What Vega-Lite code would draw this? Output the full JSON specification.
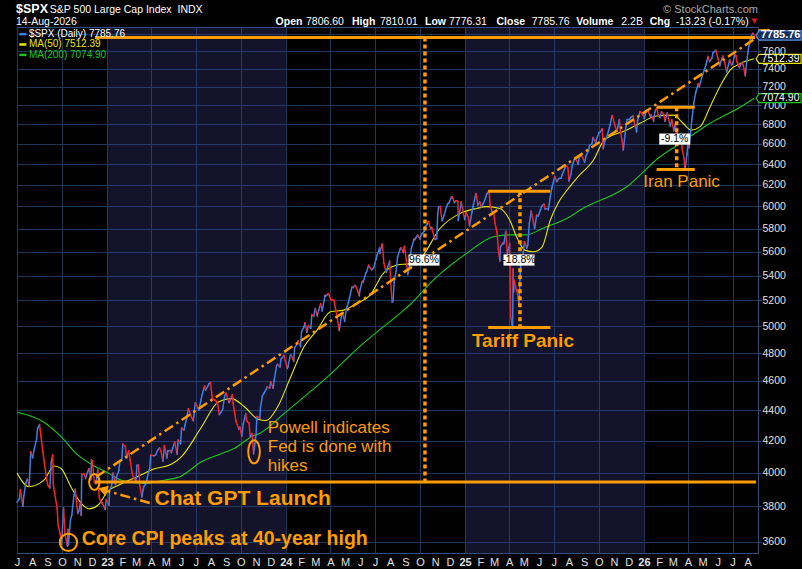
{
  "$schema": "https://vega.github.io/schema/vega-lite/v6.json",
  "width": 741,
  "height": 526,
  "autosize": {"type": "none"},
  "padding": {"left": 17, "top": 27, "right": 44, "bottom": 16},
  "background": "#000000",
  "config": {
    "font": "Liberation Sans",
    "view": {"fill": "#000000", "stroke": "#33507a", "strokeWidth": 1}
  },
  "datasets": {
    "bands": [
      {"date": "2023-01-01", "date2": "2024-01-01", "v": 3540, "v2": 7885},
      {"date": "2025-01-01", "date2": "2026-01-01", "v": 3540, "v2": 7885}
    ],
    "spx": [
      {"date":"2022-07-01","v":3825},{"date":"2022-07-06","v":3845},{"date":"2022-07-08","v":3899},{"date":"2022-07-13","v":3801},{"date":"2022-07-15","v":3863},{"date":"2022-07-19","v":3937},{"date":"2022-07-22","v":3962},{"date":"2022-07-26","v":3921},{"date":"2022-07-29","v":4130},
      {"date":"2022-08-02","v":4091},{"date":"2022-08-05","v":4145},{"date":"2022-08-10","v":4210},{"date":"2022-08-12","v":4280},{"date":"2022-08-16","v":4305},{"date":"2022-08-19","v":4228},{"date":"2022-08-23","v":4128},{"date":"2022-08-26","v":4058},{"date":"2022-08-31","v":3955},
      {"date":"2022-09-02","v":3924},{"date":"2022-09-06","v":3908},{"date":"2022-09-09","v":4067},{"date":"2022-09-12","v":4110},{"date":"2022-09-13","v":3932},{"date":"2022-09-16","v":3873},{"date":"2022-09-21","v":3790},{"date":"2022-09-23","v":3693},{"date":"2022-09-27","v":3647},{"date":"2022-09-30","v":3586},
      {"date":"2022-10-04","v":3791},{"date":"2022-10-07","v":3640},{"date":"2022-10-12","v":3577},{"date":"2022-10-13","v":3670},{"date":"2022-10-14","v":3583},{"date":"2022-10-18","v":3720},{"date":"2022-10-21","v":3752},{"date":"2022-10-25","v":3859},{"date":"2022-10-28","v":3901},
      {"date":"2022-11-02","v":3760},{"date":"2022-11-04","v":3771},{"date":"2022-11-08","v":3828},{"date":"2022-11-09","v":3749},{"date":"2022-11-10","v":3956},{"date":"2022-11-11","v":3993},{"date":"2022-11-15","v":3992},{"date":"2022-11-18","v":3965},{"date":"2022-11-22","v":4003},{"date":"2022-11-25","v":4026},{"date":"2022-11-29","v":3958},{"date":"2022-11-30","v":4080},
      {"date":"2022-12-02","v":4072},{"date":"2022-12-06","v":3941},{"date":"2022-12-09","v":3934},{"date":"2022-12-13","v":4019},{"date":"2022-12-15","v":3896},{"date":"2022-12-16","v":3852},{"date":"2022-12-20","v":3821},{"date":"2022-12-22","v":3822},{"date":"2022-12-28","v":3783},{"date":"2022-12-30","v":3840},
      {"date":"2023-01-05","v":3808},{"date":"2023-01-06","v":3895},{"date":"2023-01-10","v":3919},{"date":"2023-01-13","v":3999},{"date":"2023-01-18","v":3929},{"date":"2023-01-20","v":3972},{"date":"2023-01-25","v":4016},{"date":"2023-01-27","v":4070},{"date":"2023-01-31","v":4077},
      {"date":"2023-02-02","v":4179},{"date":"2023-02-07","v":4164},{"date":"2023-02-10","v":4090},{"date":"2023-02-14","v":4136},{"date":"2023-02-17","v":4079},{"date":"2023-02-21","v":3997},{"date":"2023-02-24","v":3970},
      {"date":"2023-03-01","v":3951},{"date":"2023-03-03","v":4046},{"date":"2023-03-06","v":4048},{"date":"2023-03-09","v":3918},{"date":"2023-03-13","v":3855},{"date":"2023-03-15","v":3892},{"date":"2023-03-17","v":3917},{"date":"2023-03-22","v":3937},{"date":"2023-03-24","v":3971},{"date":"2023-03-29","v":4028},{"date":"2023-03-31","v":4109},
      {"date":"2023-04-06","v":4105},{"date":"2023-04-10","v":4110},{"date":"2023-04-14","v":4138},{"date":"2023-04-18","v":4155},{"date":"2023-04-21","v":4133},{"date":"2023-04-25","v":4071},{"date":"2023-04-28","v":4169},
      {"date":"2023-05-03","v":4091},{"date":"2023-05-05","v":4136},{"date":"2023-05-10","v":4138},{"date":"2023-05-12","v":4124},{"date":"2023-05-19","v":4192},{"date":"2023-05-24","v":4115},{"date":"2023-05-26","v":4205},{"date":"2023-05-31","v":4180},
      {"date":"2023-06-02","v":4282},{"date":"2023-06-07","v":4268},{"date":"2023-06-09","v":4299},{"date":"2023-06-12","v":4338},{"date":"2023-06-16","v":4410},{"date":"2023-06-23","v":4348},{"date":"2023-06-26","v":4329},{"date":"2023-06-30","v":4450},
      {"date":"2023-07-06","v":4412},{"date":"2023-07-07","v":4399},{"date":"2023-07-12","v":4472},{"date":"2023-07-14","v":4505},{"date":"2023-07-19","v":4565},{"date":"2023-07-21","v":4536},{"date":"2023-07-26","v":4566},{"date":"2023-07-28","v":4582},{"date":"2023-07-31","v":4589},
      {"date":"2023-08-03","v":4502},{"date":"2023-08-04","v":4478},{"date":"2023-08-09","v":4468},{"date":"2023-08-11","v":4464},{"date":"2023-08-15","v":4437},{"date":"2023-08-18","v":4370},{"date":"2023-08-22","v":4388},{"date":"2023-08-25","v":4406},{"date":"2023-08-29","v":4497},
      {"date":"2023-09-01","v":4515},{"date":"2023-09-07","v":4451},{"date":"2023-09-08","v":4457},{"date":"2023-09-14","v":4505},{"date":"2023-09-15","v":4450},{"date":"2023-09-21","v":4330},{"date":"2023-09-22","v":4320},{"date":"2023-09-27","v":4274},{"date":"2023-09-29","v":4288},
      {"date":"2023-10-03","v":4229},{"date":"2023-10-06","v":4309},{"date":"2023-10-11","v":4377},{"date":"2023-10-13","v":4327},{"date":"2023-10-18","v":4314},{"date":"2023-10-20","v":4224},{"date":"2023-10-24","v":4247},{"date":"2023-10-27","v":4117},
      {"date":"2023-11-01","v":4237},{"date":"2023-11-03","v":4358},{"date":"2023-11-09","v":4347},{"date":"2023-11-10","v":4415},{"date":"2023-11-14","v":4496},{"date":"2023-11-17","v":4514},{"date":"2023-11-21","v":4538},{"date":"2023-11-24","v":4559},{"date":"2023-11-29","v":4550},
      {"date":"2023-12-01","v":4595},{"date":"2023-12-06","v":4549},{"date":"2023-12-08","v":4604},{"date":"2023-12-13","v":4707},{"date":"2023-12-15","v":4719},{"date":"2023-12-20","v":4698},{"date":"2023-12-22","v":4755},{"date":"2023-12-28","v":4783},{"date":"2023-12-29","v":4770},
      {"date":"2024-01-04","v":4688},{"date":"2024-01-05","v":4697},{"date":"2024-01-10","v":4783},{"date":"2024-01-12","v":4784},{"date":"2024-01-17","v":4739},{"date":"2024-01-19","v":4840},{"date":"2024-01-24","v":4868},{"date":"2024-01-26","v":4891},{"date":"2024-01-31","v":4846},
      {"date":"2024-02-02","v":4959},{"date":"2024-02-07","v":4995},{"date":"2024-02-09","v":5027},{"date":"2024-02-13","v":4953},{"date":"2024-02-16","v":5006},{"date":"2024-02-21","v":4982},{"date":"2024-02-23","v":5089},{"date":"2024-02-27","v":5078},
      {"date":"2024-03-01","v":5137},{"date":"2024-03-05","v":5079},{"date":"2024-03-08","v":5124},{"date":"2024-03-12","v":5175},{"date":"2024-03-15","v":5117},{"date":"2024-03-21","v":5241},{"date":"2024-03-22","v":5234},{"date":"2024-03-28","v":5254},
      {"date":"2024-04-02","v":5205},{"date":"2024-04-05","v":5204},{"date":"2024-04-08","v":5202},{"date":"2024-04-12","v":5123},{"date":"2024-04-15","v":5061},{"date":"2024-04-19","v":4967},{"date":"2024-04-23","v":5071},{"date":"2024-04-26","v":5100},{"date":"2024-04-30","v":5036},
      {"date":"2024-05-03","v":5128},{"date":"2024-05-08","v":5188},{"date":"2024-05-10","v":5223},{"date":"2024-05-15","v":5308},{"date":"2024-05-17","v":5303},{"date":"2024-05-21","v":5321},{"date":"2024-05-24","v":5305},{"date":"2024-05-30","v":5236},{"date":"2024-05-31","v":5278},
      {"date":"2024-06-05","v":5354},{"date":"2024-06-07","v":5347},{"date":"2024-06-12","v":5421},{"date":"2024-06-14","v":5431},{"date":"2024-06-18","v":5487},{"date":"2024-06-21","v":5465},{"date":"2024-06-24","v":5448},{"date":"2024-06-28","v":5460},
      {"date":"2024-07-03","v":5537},{"date":"2024-07-05","v":5567},{"date":"2024-07-10","v":5633},{"date":"2024-07-11","v":5585},{"date":"2024-07-12","v":5615},{"date":"2024-07-16","v":5667},{"date":"2024-07-19","v":5505},{"date":"2024-07-24","v":5427},{"date":"2024-07-26","v":5459},{"date":"2024-07-31","v":5522},
      {"date":"2024-08-02","v":5346},{"date":"2024-08-05","v":5186},{"date":"2024-08-07","v":5199},{"date":"2024-08-09","v":5344},{"date":"2024-08-13","v":5434},{"date":"2024-08-16","v":5554},{"date":"2024-08-21","v":5621},{"date":"2024-08-23","v":5634},{"date":"2024-08-28","v":5592},{"date":"2024-08-30","v":5648},
      {"date":"2024-09-03","v":5529},{"date":"2024-09-06","v":5408},{"date":"2024-09-10","v":5496},{"date":"2024-09-13","v":5626},{"date":"2024-09-19","v":5713},{"date":"2024-09-20","v":5703},{"date":"2024-09-26","v":5745},{"date":"2024-09-27","v":5738},
      {"date":"2024-10-01","v":5709},{"date":"2024-10-04","v":5751},{"date":"2024-10-10","v":5780},{"date":"2024-10-11","v":5815},{"date":"2024-10-16","v":5842},{"date":"2024-10-18","v":5864},{"date":"2024-10-23","v":5797},{"date":"2024-10-25","v":5808},{"date":"2024-10-31","v":5705},
      {"date":"2024-11-04","v":5712},{"date":"2024-11-06","v":5929},{"date":"2024-11-08","v":5996},{"date":"2024-11-11","v":6001},{"date":"2024-11-15","v":5870},{"date":"2024-11-19","v":5917},{"date":"2024-11-22","v":5969},{"date":"2024-11-26","v":6021},{"date":"2024-11-29","v":6032},
      {"date":"2024-12-04","v":6086},{"date":"2024-12-06","v":6090},{"date":"2024-12-10","v":6034},{"date":"2024-12-13","v":6051},{"date":"2024-12-17","v":6050},{"date":"2024-12-18","v":5872},{"date":"2024-12-20","v":5930},{"date":"2024-12-24","v":6040},{"date":"2024-12-27","v":5971},{"date":"2024-12-31","v":5882},
      {"date":"2025-01-03","v":5942},{"date":"2025-01-07","v":5909},{"date":"2025-01-10","v":5827},{"date":"2025-01-15","v":5950},{"date":"2025-01-17","v":5997},{"date":"2025-01-23","v":6119},{"date":"2025-01-24","v":6101},{"date":"2025-01-27","v":6012},{"date":"2025-01-31","v":6041},
      {"date":"2025-02-03","v":5994},{"date":"2025-02-07","v":6026},{"date":"2025-02-11","v":6068},{"date":"2025-02-14","v":6115},{"date":"2025-02-19","v":6144},{"date":"2025-02-21","v":6013},{"date":"2025-02-25","v":5955},{"date":"2025-02-28","v":5955},
      {"date":"2025-03-03","v":5850},{"date":"2025-03-07","v":5770},{"date":"2025-03-10","v":5615},{"date":"2025-03-13","v":5521},{"date":"2025-03-14","v":5639},{"date":"2025-03-19","v":5675},{"date":"2025-03-21","v":5668},{"date":"2025-03-25","v":5777},{"date":"2025-03-28","v":5581},
      {"date":"2025-04-02","v":5671},{"date":"2025-04-03","v":5396},{"date":"2025-04-04","v":5074},{"date":"2025-04-08","v":4982},{"date":"2025-04-09","v":5457},{"date":"2025-04-10","v":5268},{"date":"2025-04-11","v":5363},{"date":"2025-04-16","v":5276},{"date":"2025-04-17","v":5283},{"date":"2025-04-21","v":5158},{"date":"2025-04-23","v":5376},{"date":"2025-04-25","v":5525},{"date":"2025-04-29","v":5561},
      {"date":"2025-05-02","v":5687},{"date":"2025-05-07","v":5631},{"date":"2025-05-09","v":5660},{"date":"2025-05-12","v":5844},{"date":"2025-05-16","v":5958},{"date":"2025-05-21","v":5845},{"date":"2025-05-23","v":5803},{"date":"2025-05-27","v":5922},{"date":"2025-05-30","v":5912},
      {"date":"2025-06-04","v":5971},{"date":"2025-06-06","v":6000},{"date":"2025-06-11","v":6022},{"date":"2025-06-13","v":5977},{"date":"2025-06-18","v":5981},{"date":"2025-06-20","v":5968},{"date":"2025-06-24","v":6092},{"date":"2025-06-27","v":6173},
      {"date":"2025-07-03","v":6279},{"date":"2025-07-07","v":6230},{"date":"2025-07-11","v":6260},{"date":"2025-07-16","v":6264},{"date":"2025-07-18","v":6297},{"date":"2025-07-24","v":6363},{"date":"2025-07-25","v":6389},{"date":"2025-07-30","v":6362},
      {"date":"2025-08-01","v":6238},{"date":"2025-08-05","v":6299},{"date":"2025-08-08","v":6389},{"date":"2025-08-12","v":6446},{"date":"2025-08-15","v":6450},{"date":"2025-08-20","v":6396},{"date":"2025-08-22","v":6467},{"date":"2025-08-27","v":6481},{"date":"2025-08-29","v":6460},
      {"date":"2025-09-02","v":6416},{"date":"2025-09-05","v":6482},{"date":"2025-09-10","v":6532},{"date":"2025-09-12","v":6584},{"date":"2025-09-17","v":6600},{"date":"2025-09-19","v":6664},{"date":"2025-09-25","v":6605},{"date":"2025-09-26","v":6644},
      {"date":"2025-10-01","v":6711},{"date":"2025-10-03","v":6716},{"date":"2025-10-08","v":6753},{"date":"2025-10-10","v":6552},{"date":"2025-10-14","v":6644},{"date":"2025-10-17","v":6664},{"date":"2025-10-21","v":6735},{"date":"2025-10-24","v":6792},{"date":"2025-10-28","v":6890},{"date":"2025-10-31","v":6840},
      {"date":"2025-11-04","v":6771},{"date":"2025-11-07","v":6728},{"date":"2025-11-12","v":6850},{"date":"2025-11-14","v":6734},{"date":"2025-11-18","v":6617},{"date":"2025-11-20","v":6538},{"date":"2025-11-25","v":6766},{"date":"2025-11-28","v":6849},
      {"date":"2025-12-03","v":6850},{"date":"2025-12-05","v":6870},{"date":"2025-12-10","v":6886},{"date":"2025-12-12","v":6827},{"date":"2025-12-17","v":6721},{"date":"2025-12-19","v":6834},{"date":"2025-12-24","v":6932},{"date":"2025-12-30","v":6896},
      {"date":"2026-01-02","v":6858},{"date":"2026-01-06","v":6944},{"date":"2026-01-09","v":6950},{"date":"2026-01-14","v":6880},{"date":"2026-01-16","v":6900},{"date":"2026-01-21","v":6830},{"date":"2026-01-23","v":6920},{"date":"2026-01-27","v":6976},{"date":"2026-01-30","v":6900},
      {"date":"2026-02-03","v":6870},{"date":"2026-02-06","v":6930},{"date":"2026-02-11","v":6900},{"date":"2026-02-13","v":6830},{"date":"2026-02-18","v":6920},{"date":"2026-02-20","v":6860},{"date":"2026-02-24","v":6780},{"date":"2026-02-27","v":6850},
      {"date":"2026-03-03","v":6732},{"date":"2026-03-06","v":6800},{"date":"2026-03-10","v":6700},{"date":"2026-03-13","v":6600},{"date":"2026-03-17","v":6680},{"date":"2026-03-20","v":6560},{"date":"2026-03-24","v":6450},{"date":"2026-03-26","v":6341},{"date":"2026-03-30","v":6500},
      {"date":"2026-04-01","v":6620},{"date":"2026-04-03","v":6560},{"date":"2026-04-06","v":6700},{"date":"2026-04-09","v":6850},{"date":"2026-04-13","v":7030},{"date":"2026-04-17","v":7140},{"date":"2026-04-22","v":7235},{"date":"2026-04-24","v":7200},{"date":"2026-04-29","v":7300},
      {"date":"2026-05-04","v":7380},{"date":"2026-05-08","v":7450},{"date":"2026-05-12","v":7540},{"date":"2026-05-15","v":7480},{"date":"2026-05-20","v":7520},{"date":"2026-05-22","v":7580},{"date":"2026-05-28","v":7610},
      {"date":"2026-06-01","v":7520},{"date":"2026-06-05","v":7433},{"date":"2026-06-08","v":7490},{"date":"2026-06-11","v":7546},{"date":"2026-06-15","v":7470},{"date":"2026-06-19","v":7363},{"date":"2026-06-23","v":7450},{"date":"2026-06-25","v":7500},{"date":"2026-06-29","v":7440},
      {"date":"2026-07-01","v":7454},{"date":"2026-07-06","v":7560},{"date":"2026-07-08","v":7546},{"date":"2026-07-10","v":7480},{"date":"2026-07-15","v":7410},{"date":"2026-07-20","v":7470},{"date":"2026-07-23","v":7440},{"date":"2026-07-27","v":7320},{"date":"2026-07-30","v":7480},
      {"date":"2026-08-03","v":7650},{"date":"2026-08-05","v":7700},{"date":"2026-08-07","v":7760},{"date":"2026-08-11","v":7810},{"date":"2026-08-13","v":7799},{"date":"2026-08-14","v":7785.76}
    ],
    "ma50": [
      {"date":"2022-07-01","v":3999},{"date":"2022-07-25","v":3916},{"date":"2022-08-25","v":3955},{"date":"2022-09-15","v":4041},{"date":"2022-09-29","v":4026},{"date":"2022-10-19","v":3916},{"date":"2022-11-09","v":3818},{"date":"2022-11-26","v":3786},{"date":"2022-12-13","v":3807},
      {"date":"2023-01-03","v":3891},{"date":"2023-01-23","v":3923},{"date":"2023-03-05","v":3978},{"date":"2023-04-08","v":4024},{"date":"2023-05-12","v":4052},{"date":"2023-06-02","v":4100},{"date":"2023-07-13","v":4290},{"date":"2023-08-16","v":4455},{"date":"2023-09-12","v":4478},{"date":"2023-10-09","v":4421},{"date":"2023-11-05","v":4340},{"date":"2023-11-22","v":4331},{"date":"2023-12-15","v":4421},
      {"date":"2024-01-11","v":4630},{"date":"2024-02-07","v":4846},{"date":"2024-03-05","v":4972},{"date":"2024-04-01","v":5111},{"date":"2024-04-28","v":5124},{"date":"2024-05-25","v":5177},{"date":"2024-06-21","v":5243},{"date":"2024-07-18","v":5419},{"date":"2024-08-15","v":5488},{"date":"2024-09-10","v":5500},{"date":"2024-10-02","v":5545},{"date":"2024-11-11","v":5804},{"date":"2024-12-22","v":5937},
      {"date":"2025-01-25","v":5982},{"date":"2025-02-14","v":5998},{"date":"2025-03-13","v":5982},{"date":"2025-04-02","v":5877},{"date":"2025-04-16","v":5729},{"date":"2025-05-03","v":5614},{"date":"2025-05-20","v":5600},{"date":"2025-06-07","v":5640},{"date":"2025-06-24","v":5877},{"date":"2025-07-11","v":6040},{"date":"2025-07-28","v":6150},{"date":"2025-08-18","v":6270},{"date":"2025-09-20","v":6439},{"date":"2025-10-12","v":6638},{"date":"2025-11-27","v":6740},{"date":"2025-12-24","v":6810},
      {"date":"2026-01-27","v":6885},{"date":"2026-03-02","v":6895},{"date":"2026-03-22","v":6810},{"date":"2026-04-08","v":6740},{"date":"2026-04-26","v":6775},{"date":"2026-05-16","v":6980},{"date":"2026-06-05","v":7200},{"date":"2026-06-26","v":7385},{"date":"2026-07-17","v":7460},{"date":"2026-08-14","v":7512.39}
    ],
    "ma200": [
      {"date":"2022-07-01","v":4386},{"date":"2022-08-25","v":4320},{"date":"2022-09-29","v":4226},{"date":"2022-11-02","v":4110},{"date":"2022-12-02","v":4048},
      {"date":"2023-01-03","v":3999},{"date":"2023-01-30","v":3955},{"date":"2023-03-17","v":3935},{"date":"2023-04-27","v":3955},{"date":"2023-05-31","v":3978},{"date":"2023-07-12","v":4066},{"date":"2023-08-15","v":4110},{"date":"2023-09-17","v":4150},{"date":"2023-10-23","v":4226},{"date":"2023-11-10","v":4250},{"date":"2023-12-30","v":4382},
      {"date":"2024-03-19","v":4607},{"date":"2024-06-07","v":4871},{"date":"2024-08-21","v":5099},{"date":"2024-09-10","v":5164},{"date":"2024-10-28","v":5364},
      {"date":"2025-01-04","v":5586},{"date":"2025-02-28","v":5729},{"date":"2025-04-02","v":5746},{"date":"2025-05-06","v":5746},{"date":"2025-06-09","v":5804},{"date":"2025-08-03","v":5907},{"date":"2025-08-24","v":5967},{"date":"2025-11-27","v":6183},
      {"date":"2026-02-03","v":6472},{"date":"2026-03-22","v":6625},{"date":"2026-05-16","v":6810},{"date":"2026-07-17","v":6980},{"date":"2026-08-14","v":7074.9}
    ],
    "hlines": [
      {"date":"2022-12-07","date2":"2026-08-16","v":7760},
      {"date":"2022-12-07","date2":"2026-08-18","v":3944},
      {"date":"2025-02-17","date2":"2025-06-24","v":6140},
      {"date":"2025-02-17","date2":"2025-06-24","v":4990},
      {"date":"2026-01-27","date2":"2026-04-15","v":6978},
      {"date":"2026-01-27","date2":"2026-04-15","v":6346}
    ],
    "vlines": [
      {"date":"2024-10-11","v":7760,"v2":3944},
      {"date":"2025-04-23","v":6140,"v2":4990},
      {"date":"2026-03-09","v":6978,"v2":6346}
    ],
    "trend": [
      {"date":"2022-12-10","v":3976,"date2":"2026-08-30","v2":7800},
      {"date":"2023-03-29","v":3820,"date2":"2023-01-02","v2":3890}
    ],
    "trendHead": [{"date":"2026-09-07","v":7831}],
    "gptHead": [{"date":"2022-12-23","v":3899}],
    "cpiCircle": [{"date":"2022-10-14","v":3598}],
    "gptEllipse": [{"date":"2022-12-06","v":3944}],
    "powellEllipse": [{"date":"2023-10-28","v":4130}],
    "pctBoxes": [
      {"date":"2024-10-09","v":5530,"t":"96.6%"},
      {"date":"2025-04-21","v":5530,"t":"-18.8%"},
      {"date":"2026-03-05","v":6648,"t":"-9.1%"}
    ],
    "noteGpt": [{"date":"2023-04-08","v":3846,"t":"Chat GPT Launch"}],
    "noteCpi": [{"date":"2022-11-10","v":3614,"t":"Core CPI peaks at 40-year high"}],
    "notePowell": [
      {"date":"2023-11-25","v":4282,"t":"Powell indicates"},
      {"date":"2023-11-25","v":4160,"t":"Fed is done with"},
      {"date":"2023-11-25","v":4041,"t":"hikes"}
    ],
    "noteTariff": [{"date":"2025-04-29","v":4889,"t":"Tariff Panic"}],
    "noteIran": [{"date":"2026-03-19","v":6229,"t":"Iran Panic"}],
    "legend": [
      {"date":"2022-07-13","v":7800,"s":"spx","t":"$SPX (Daily) 7785.76"},
      {"date":"2022-07-13","v":7678,"s":"ma50","t":"MA(50) 7512.39"},
      {"date":"2022-07-13","v":7557,"s":"ma200","t":"MA(200) 7074.90"}
    ],
    "hdrBig": [{"date":"2022-06-29","v":8052,"t":"$SPX"}],
    "hdrNormal": [
      {"date":"2022-09-06","v":8052,"t":"S&P 500 Large Cap Index\u00a0\u00a0INDX"},
      {"date":"2022-06-29","v":7910,"t":"14-Aug-2026"},
      {"date":"2024-02-11","v":7910,"t":"7806.60"},
      {"date":"2024-07-11","v":7910,"t":"7810.01"},
      {"date":"2024-11-29","v":7910,"t":"7776.31"},
      {"date":"2025-05-17","v":7910,"t":"7785.76"},
      {"date":"2025-11-16","v":7910,"t":"2.2B"},
      {"date":"2026-03-07","v":7910,"t":"-13.23 (-0.17%)"}
    ],
    "hdrBold": [
      {"date":"2023-12-11","v":7910,"t":"Open"},
      {"date":"2024-05-15","v":7910,"t":"High"},
      {"date":"2024-10-11","v":7910,"t":"Low"},
      {"date":"2025-03-06","v":7910,"t":"Close"},
      {"date":"2025-08-16","v":7910,"t":"Volume"},
      {"date":"2026-01-13","v":7910,"t":"Chg"}
    ],
    "copyright": [{"date":"2026-08-22","v":8060,"t":"© StockCharts.com"}],
    "chgArrow": [{"date":"2026-08-15","v":7957}],
    "spxBox": [{"date":"2026-10-03","v":7785.76,"t":"7785.76"}],
    "maBoxes": [
      {"date":"2026-10-03","v":7512.39,"s":"ma50","t":"7512.39"},
      {"date":"2026-10-03","v":7074.9,"s":"ma200","t":"7074.90"}
    ]
  },
  "encoding": {
    "x": {
      "field": "date",
      "type": "temporal",
      "title": null,
      "scale": {"domain": [{"year": 2022, "month": 7, "date": 1}, {"year": 2026, "month": 8, "date": 22}]},
      "axis": {
        "orient": "bottom",
        "tickCount": {"interval": "month", "step": 1},
        "labelExpr": "month(datum.value) == 0 ? timeFormat(datum.value, '%y') : slice(timeFormat(datum.value, '%b'), 0, 1)",
        "labelFontWeight": {"condition": {"test": "month(datum.value) == 0", "value": "bold"}, "value": "normal"},
        "labelColor": "#e0e0e0",
        "labelFontSize": 11,
        "labelPadding": 3,
        "labelOverlap": false,
        "labelFlush": false,
        "ticks": false,
        "domain": false,
        "grid": true,
        "gridColor": "#1c3656",
        "gridOpacity": {"condition": {"test": "month(datum.value) % 3 == 0", "value": 1}, "value": 0}
      }
    },
    "y": {
      "field": "v",
      "type": "quantitative",
      "title": null,
      "scale": {"type": "log", "domain": [3540, 7885], "nice": false, "zero": false},
      "axis": {
        "orient": "right",
        "values": [3600, 3800, 4000, 4200, 4400, 4600, 4800, 5000, 5200, 5400, 5600, 5800, 6000, 6200, 6400, 6600, 6800, 7000, 7200, 7400, 7600, 7800],
        "format": "d",
        "labelExpr": "datum.value == 7800 ? '' : datum.label",
        "labelColor": "#e0e0e0",
        "labelFontSize": 10.5,
        "labelPadding": 1,
        "tickSize": 3,
        "tickColor": "#33507a",
        "domain": false,
        "grid": true,
        "gridColor": "#1c3656",
        "labelOverlap": false,
        "labelFlush": false
      }
    }
  },
  "layer": [
    {
      "data": {"name": "bands", "format": {"parse": {"date": "date", "date2": "date"}}},
      "mark": {"type": "rect", "fill": "#46469e", "opacity": 0.27},
      "encoding": {"x2": {"field": "date2"}, "y2": {"field": "v2"}}
    },
    {
      "data": {"name": "ma200", "format": {"parse": {"date": "date"}}},
      "mark": {"type": "line", "color": "#19c819", "strokeWidth": 1.1, "interpolate": "monotone"},
      "encoding": {}
    },
    {
      "data": {"name": "ma50", "format": {"parse": {"date": "date"}}},
      "mark": {"type": "line", "color": "#e6e600", "strokeWidth": 1.1, "interpolate": "monotone"},
      "encoding": {}
    },
    {
      "data": {"name": "spx", "format": {"parse": {"date": "date"}}},
      "transform": [
        {"window": [{"op": "lead", "field": "date", "as": "date2"}, {"op": "lead", "field": "v", "as": "v2"}], "sort": [{"field": "date", "order": "ascending"}]},
        {"filter": "datum.v2 != null"},
        {"calculate": "datum.v2 >= datum.v ? 'up' : 'down'", "as": "dir"}
      ],
      "mark": {"type": "rule", "strokeWidth": 1.5, "strokeCap": "round"},
      "encoding": {
        "x2": {"field": "date2"},
        "y2": {"field": "v2"},
        "color": {"field": "dir", "type": "nominal", "scale": {"domain": ["up", "down"], "range": ["#3d7fe6", "#ff2121"]}, "legend": null}
      }
    },
    {
      "data": {"name": "hlines", "format": {"parse": {"date": "date", "date2": "date"}}},
      "mark": {"type": "rule", "color": "#ff9c00", "strokeWidth": 3},
      "encoding": {"x2": {"field": "date2"}}
    },
    {
      "data": {"name": "vlines", "format": {"parse": {"date": "date"}}},
      "mark": {"type": "rule", "color": "#ff9c00", "strokeWidth": 3.5, "strokeDash": [4, 3], "strokeCap": "butt"},
      "encoding": {"y2": {"field": "v2"}}
    },
    {
      "data": {"name": "trend", "format": {"parse": {"date": "date", "date2": "date"}}},
      "mark": {"type": "rule", "color": "#ff9c00", "strokeWidth": 2.5, "strokeDash": [10, 4, 2.5, 4]},
      "encoding": {"x2": {"field": "date2"}, "y2": {"field": "v2"}}
    },
    {
      "data": {"name": "trendHead", "format": {"parse": {"date": "date"}}},
      "mark": {"type": "point", "shape": "triangle-right", "size": 140, "filled": true, "color": "#ff9c00", "opacity": 1, "angle": -33},
      "encoding": {}
    },
    {
      "data": {"name": "gptHead", "format": {"parse": {"date": "date"}}},
      "mark": {"type": "point", "shape": "triangle-left", "size": 120, "filled": true, "color": "#ff9c00", "opacity": 1, "angle": 17},
      "encoding": {}
    },
    {
      "data": {"name": "cpiCircle", "format": {"parse": {"date": "date"}}},
      "mark": {"type": "point", "shape": "circle", "size": 300, "filled": false, "color": "#ff9c00", "strokeWidth": 2, "opacity": 1},
      "encoding": {}
    },
    {
      "data": {"name": "gptEllipse", "format": {"parse": {"date": "date"}}},
      "mark": {"type": "point", "shape": "M0,-1A0.66,1,0,1,1,0,1A0.66,1,0,1,1,0,-1Z", "size": 250, "filled": false, "color": "#ff9c00", "strokeWidth": 2, "opacity": 1},
      "encoding": {}
    },
    {
      "data": {"name": "powellEllipse", "format": {"parse": {"date": "date"}}},
      "mark": {"type": "point", "shape": "M0,-1A0.5,1,0,1,1,0,1A0.5,1,0,1,1,0,-1Z", "size": 540, "filled": false, "color": "#ff9c00", "strokeWidth": 2, "opacity": 1},
      "encoding": {}
    },
    {
      "data": {"name": "pctBoxes", "format": {"parse": {"date": "date"}}},
      "mark": {"type": "point", "shape": "M-1,-0.36L1,-0.36L1,0.36L-1,0.36Z", "size": 961, "filled": true, "color": "#ffffff", "opacity": 1},
      "encoding": {}
    },
    {
      "data": {"name": "pctBoxes", "format": {"parse": {"date": "date"}}},
      "mark": {"type": "text", "color": "#000000", "fontSize": 10.5, "align": "center", "baseline": "middle"},
      "encoding": {"text": {"field": "t"}}
    },
    {
      "data": {"name": "noteGpt", "format": {"parse": {"date": "date"}}},
      "mark": {"type": "text", "color": "#ff9c00", "fontSize": 21, "fontWeight": "bold", "align": "left", "baseline": "middle"},
      "encoding": {"text": {"field": "t"}}
    },
    {
      "data": {"name": "noteCpi", "format": {"parse": {"date": "date"}}},
      "mark": {"type": "text", "color": "#ff9c00", "fontSize": 19.5, "fontWeight": "bold", "align": "left", "baseline": "middle"},
      "encoding": {"text": {"field": "t"}}
    },
    {
      "data": {"name": "notePowell", "format": {"parse": {"date": "date"}}},
      "mark": {"type": "text", "color": "#ff9c00", "fontSize": 17, "align": "left", "baseline": "middle"},
      "encoding": {"text": {"field": "t"}}
    },
    {
      "data": {"name": "noteTariff", "format": {"parse": {"date": "date"}}},
      "mark": {"type": "text", "color": "#ff9c00", "fontSize": 19, "fontWeight": "bold", "align": "center", "baseline": "middle"},
      "encoding": {"text": {"field": "t"}}
    },
    {
      "data": {"name": "noteIran", "format": {"parse": {"date": "date"}}},
      "mark": {"type": "text", "color": "#ff9c00", "fontSize": 17, "align": "center", "baseline": "middle"},
      "encoding": {"text": {"field": "t"}}
    },
    {
      "data": {"name": "legend", "format": {"parse": {"date": "date"}}},
      "mark": {"type": "point", "shape": "stroke", "size": 49, "strokeWidth": 2.5, "opacity": 1},
      "encoding": {
        "stroke": {"field": "s", "type": "nominal", "scale": {"domain": ["spx", "ma50", "ma200"], "range": ["#3d7fe6", "#e6e600", "#19c819"]}, "legend": null}
      }
    },
    {
      "data": {"name": "legend", "format": {"parse": {"date": "date"}}},
      "mark": {"type": "text", "fontSize": 10, "align": "left", "baseline": "middle", "dx": 6},
      "encoding": {
        "text": {"field": "t"},
        "fill": {"field": "s", "type": "nominal", "scale": {"domain": ["spx", "ma50", "ma200"], "range": ["#ffffff", "#e6e600", "#19c819"]}, "legend": null}
      }
    },
    {
      "data": {"name": "hdrBig", "format": {"parse": {"date": "date"}}},
      "mark": {"type": "text", "color": "#ffffff", "fontSize": 12.5, "fontWeight": "bold", "align": "left", "baseline": "alphabetic"},
      "encoding": {"text": {"field": "t"}}
    },
    {
      "data": {"name": "hdrNormal", "format": {"parse": {"date": "date"}}},
      "mark": {"type": "text", "color": "#ffffff", "fontSize": 10.5, "align": "left", "baseline": "alphabetic"},
      "encoding": {"text": {"field": "t"}}
    },
    {
      "data": {"name": "hdrBold", "format": {"parse": {"date": "date"}}},
      "mark": {"type": "text", "color": "#ffffff", "fontSize": 10.5, "fontWeight": "bold", "align": "left", "baseline": "alphabetic"},
      "encoding": {"text": {"field": "t"}}
    },
    {
      "data": {"name": "copyright", "format": {"parse": {"date": "date"}}},
      "mark": {"type": "text", "color": "#a8a8a8", "fontSize": 11, "align": "right", "baseline": "alphabetic"},
      "encoding": {"text": {"field": "t"}}
    },
    {
      "data": {"name": "chgArrow", "format": {"parse": {"date": "date"}}},
      "mark": {"type": "point", "shape": "triangle-down", "size": 36, "filled": true, "color": "#e8141e", "opacity": 1},
      "encoding": {}
    },
    {
      "data": {"name": "spxBox", "format": {"parse": {"date": "date"}}},
      "mark": {"type": "point", "shape": "M-1,0L-0.87,-0.21L1,-0.21L1,0.21L-0.87,0.21Z", "size": 2025, "filled": true, "fill": "#16305c", "stroke": "#5a8ee0", "strokeWidth": 1.2, "opacity": 1},
      "encoding": {}
    },
    {
      "data": {"name": "spxBox", "format": {"parse": {"date": "date"}}},
      "mark": {"type": "text", "color": "#ffffff", "fontSize": 11, "fontWeight": "bold", "align": "center", "baseline": "middle", "dx": 2},
      "encoding": {"text": {"field": "t"}}
    },
    {
      "data": {"name": "maBoxes", "format": {"parse": {"date": "date"}}},
      "mark": {"type": "point", "shape": "M-1,0L-0.87,-0.2L1,-0.2L1,0.2L-0.87,0.2Z", "size": 2025, "filled": true, "fill": "#000000", "strokeWidth": 1.2, "opacity": 1},
      "encoding": {
        "stroke": {"field": "s", "type": "nominal", "scale": {"domain": ["spx", "ma50", "ma200"], "range": ["#3d7fe6", "#e6e600", "#19c819"]}, "legend": null}
      }
    },
    {
      "data": {"name": "maBoxes", "format": {"parse": {"date": "date"}}},
      "mark": {"type": "text", "color": "#ffffff", "fontSize": 10.5, "align": "center", "baseline": "middle", "dx": 2},
      "encoding": {"text": {"field": "t"}}
    }
  ]
}
